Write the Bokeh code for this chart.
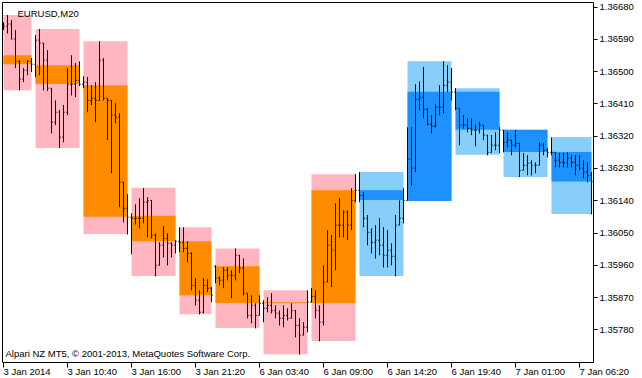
from bokeh.plotting import figure
from bokeh.models import ColumnDataSource, FixedTicker, PrintfTickFormatter, Range1d, Label, LinearAxis
from bokeh.embed import file_html
from bokeh.resources import INLINE

# ---------------- data ----------------
symbol_title = "EURUSD,M20"
broker_note = "Alpari NZ MT5, \u00a9 2001-2013, MetaQuotes Software Corp."

# M20 bars (bar index 0 = 3 Jan 2014 05:20)
bar_open = [
    1.36624, 1.36627, 1.36633, 1.36591, 1.36529, 1.36479, 1.36504, 1.36529,
    1.36521, 1.36588, 1.36580, 1.36532, 1.36454, 1.36359, 1.36387, 1.36317, 1.36387, 1.36465, 1.36465, 1.36476,
    1.36465, 1.36471, 1.36420, 1.36426, 1.36420, 1.36532, 1.36426, 1.36420, 1.36379, 1.36373, 1.36192, 1.36119,
    1.36094, 1.36091, 1.36091, 1.36091, 1.36136, 1.36141, 1.36044, 1.35960, 1.36016, 1.36035, 1.36021, 1.36016,
    1.36027, 1.36024, 1.36007, 1.35993, 1.35904, 1.35862, 1.35829, 1.35904, 1.35896,
    1.35957, 1.35924, 1.35918, 1.35946, 1.35932, 1.35932, 1.35988, 1.35952, 1.35882, 1.35820, 1.35848, 1.35820,
    1.35854, 1.35840, 1.35848, 1.35834, 1.35826, 1.35812, 1.35820, 1.35812, 1.35834, 1.35792, 1.35765, 1.35787,
    1.35857, 1.35873, 1.35834, 1.35801, 1.35913, 1.36016, 1.36002, 1.36072, 1.36072, 1.36108, 1.36072, 1.36141,
    1.36169, 1.36155, 1.36091, 1.36052, 1.36024, 1.36030, 1.36016, 1.35988, 1.36002, 1.35985, 1.36072, 1.36091,
    1.36141, 1.36256, 1.36231, 1.36423, 1.36429, 1.36395, 1.36353, 1.36348, 1.36401, 1.36401, 1.36462, 1.36471,
    1.36443, 1.36398, 1.36351, 1.36351, 1.36342, 1.36337, 1.36337, 1.36351, 1.36323, 1.36275, 1.36295, 1.36295,
    1.36337, 1.36303, 1.36309, 1.36295, 1.36300, 1.36225, 1.36239, 1.36245, 1.36239, 1.36239, 1.36295, 1.36281,
    1.36275, 1.36275, 1.36253, 1.36247, 1.36245, 1.36259, 1.36247, 1.36239, 1.36231, 1.36220, 1.36211,
]
bar_high = [
    1.36638, 1.36658, 1.36644, 1.36616, 1.36532, 1.36510, 1.36532, 1.36538,
    1.36602, 1.36619, 1.36580, 1.36560, 1.36454, 1.36420, 1.36393, 1.36407, 1.36510, 1.36546, 1.36524, 1.36529,
    1.36487, 1.36485, 1.36462, 1.36471, 1.36585, 1.36538, 1.36426, 1.36420, 1.36412, 1.36384, 1.36192, 1.36158,
    1.36105, 1.36130, 1.36147, 1.36175, 1.36150, 1.36141, 1.36049, 1.36024, 1.36069, 1.36049, 1.36024, 1.36030,
    1.36066, 1.36066, 1.36027, 1.35996, 1.35924, 1.35890, 1.35924, 1.35921, 1.35899,
    1.35960, 1.35929, 1.35954, 1.35954, 1.35946, 1.36007, 1.35988, 1.35979, 1.35882, 1.35876, 1.35854, 1.35876,
    1.35862, 1.35871, 1.35882, 1.35848, 1.35834, 1.35848, 1.35840, 1.35854, 1.35834, 1.35812, 1.35801, 1.35890,
    1.35896, 1.35890, 1.35848, 1.35960, 1.36058, 1.36044, 1.36133, 1.36147, 1.36113, 1.36113, 1.36175, 1.36214,
    1.36220, 1.36164, 1.36100, 1.36063, 1.36072, 1.36091, 1.36066, 1.36058, 1.36021, 1.36100, 1.36141, 1.36175,
    1.36345, 1.36345, 1.36465, 1.36473, 1.36513, 1.36398, 1.36379, 1.36409, 1.36462, 1.36529, 1.36518, 1.36510,
    1.36454, 1.36398, 1.36379, 1.36370, 1.36370, 1.36353, 1.36359, 1.36351, 1.36323, 1.36323, 1.36331, 1.36345,
    1.36337, 1.36331, 1.36309, 1.36337, 1.36300, 1.36273, 1.36267, 1.36253, 1.36247, 1.36303, 1.36300, 1.36287,
    1.36317, 1.36275, 1.36273, 1.36273, 1.36275, 1.36267, 1.36267, 1.36267, 1.36253, 1.36247, 1.36220,
]
bar_low = [
    1.36616, 1.36607, 1.36591, 1.36510, 1.36448, 1.36471, 1.36490, 1.36499,
    1.36485, 1.36490, 1.36448, 1.36446, 1.36328, 1.36351, 1.36287, 1.36303, 1.36379, 1.36434, 1.36429, 1.36460,
    1.36454, 1.36387, 1.36407, 1.36359, 1.36420, 1.36420, 1.36309, 1.36217, 1.36356, 1.36122, 1.36080, 1.36046,
    1.35991, 1.36074, 1.36063, 1.36077, 1.36038, 1.36035, 1.35929, 1.35960, 1.35982, 1.35960, 1.35982, 1.35993,
    1.35996, 1.35996, 1.35968, 1.35890, 1.35848, 1.35823, 1.35826, 1.35885, 1.35857,
    1.35910, 1.35904, 1.35896, 1.35918, 1.35868, 1.35918, 1.35938, 1.35876, 1.35812, 1.35798, 1.35784, 1.35820,
    1.35801, 1.35829, 1.35826, 1.35812, 1.35792, 1.35787, 1.35806, 1.35812, 1.35759, 1.35711, 1.35765, 1.35773,
    1.35857, 1.35812, 1.35748, 1.35792, 1.35913, 1.35899, 1.35946, 1.36038, 1.36038, 1.36030, 1.36058, 1.36136,
    1.36136, 1.36066, 1.36016, 1.35993, 1.35979, 1.35988, 1.35954, 1.35954, 1.35960, 1.35929, 1.36072, 1.36077,
    1.36141, 1.36183, 1.36220, 1.36393, 1.36370, 1.36351, 1.36328, 1.36345, 1.36379, 1.36384, 1.36443, 1.36420,
    1.36393, 1.36295, 1.36342, 1.36331, 1.36323, 1.36292, 1.36328, 1.36309, 1.36267, 1.36275, 1.36281, 1.36273,
    1.36275, 1.36289, 1.36267, 1.36289, 1.36206, 1.36225, 1.36211, 1.36211, 1.36217, 1.36239, 1.36267, 1.36261,
    1.36267, 1.36233, 1.36233, 1.36233, 1.36233, 1.36233, 1.36211, 1.36225, 1.36203, 1.36192, 1.36102,
]
bar_close = [
    1.36627, 1.36633, 1.36591, 1.36529, 1.36479, 1.36504, 1.36529, 1.36521,
    1.36588, 1.36580, 1.36532, 1.36454, 1.36359, 1.36387, 1.36317, 1.36387, 1.36465, 1.36465, 1.36476, 1.36465,
    1.36471, 1.36420, 1.36426, 1.36420, 1.36532, 1.36426, 1.36420, 1.36379, 1.36373, 1.36192, 1.36119, 1.36094,
    1.36091, 1.36091, 1.36091, 1.36136, 1.36141, 1.36044, 1.35960, 1.36016, 1.36035, 1.36021, 1.36016, 1.36027,
    1.36024, 1.36007, 1.35993, 1.35904, 1.35862, 1.35829, 1.35904, 1.35896, 1.35876,
    1.35924, 1.35918, 1.35946, 1.35932, 1.35932, 1.35988, 1.35952, 1.35882, 1.35820, 1.35848, 1.35820, 1.35854,
    1.35840, 1.35848, 1.35834, 1.35826, 1.35812, 1.35820, 1.35812, 1.35834, 1.35792, 1.35765, 1.35787, 1.35857,
    1.35873, 1.35834, 1.35801, 1.35913, 1.36016, 1.36002, 1.36072, 1.36072, 1.36108, 1.36072, 1.36141, 1.36169,
    1.36155, 1.36091, 1.36052, 1.36024, 1.36030, 1.36016, 1.35988, 1.36002, 1.35985, 1.36072, 1.36091, 1.36141,
    1.36256, 1.36231, 1.36423, 1.36429, 1.36395, 1.36353, 1.36348, 1.36401, 1.36401, 1.36462, 1.36471, 1.36443,
    1.36398, 1.36351, 1.36351, 1.36342, 1.36337, 1.36337, 1.36351, 1.36323, 1.36275, 1.36295, 1.36295, 1.36337,
    1.36303, 1.36309, 1.36295, 1.36300, 1.36225, 1.36239, 1.36245, 1.36239, 1.36239, 1.36295, 1.36281, 1.36275,
    1.36275, 1.36253, 1.36247, 1.36245, 1.36259, 1.36247, 1.36239, 1.36231, 1.36220, 1.36211, 1.36194,
]

# H4 candles drawn as boxes (first/last M20 bar of each period)
h4_first_bar = [0, 8, 20, 32, 44, 53, 65, 77, 89, 101, 113, 125, 137]
h4_last_bar = [7, 19, 31, 43, 52, 64, 76, 88, 100, 112, 124, 136, 147]
h4_open = [1.36546, 1.36518, 1.36462, 1.36098, 1.36027, 1.35957, 1.35854, 1.35855, 1.36169, 1.36139, 1.36444, 1.36338, 1.36276]
h4_high = [1.36658, 1.36619, 1.36585, 1.36176, 1.36066, 1.36007, 1.35890, 1.36214, 1.36220, 1.36529, 1.36454, 1.36338, 1.36318]
h4_low = [1.36448, 1.36287, 1.36047, 1.35930, 1.35823, 1.35785, 1.35712, 1.35749, 1.35930, 1.36139, 1.36268, 1.36206, 1.36103]
h4_close = [1.36521, 1.36466, 1.36095, 1.36027, 1.35876, 1.35855, 1.35857, 1.36169, 1.36142, 1.36444, 1.36338, 1.36276, 1.36194]
h4_trend = ["sell"] * 8 + ["buy"] * 5

price_ticks = [1.36680, 1.36590, 1.36500, 1.36410, 1.36320, 1.36230, 1.36140, 1.36050, 1.35960, 1.35870, 1.35780]
time_tick_bars = [0, 16, 32, 48, 64, 80, 96, 112, 128, 144]
time_tick_labels = ["3 Jan 2014", "3 Jan 10:40", "3 Jan 16:00", "3 Jan 21:20", "6 Jan 03:40",
                    "6 Jan 09:00", "6 Jan 14:20", "6 Jan 19:40", "7 Jan 01:00", "7 Jan 06:20"]

# ---------------- layout / style ----------------
FONT = "Liberation Sans"
FS = "9.5px"
TICK = 0.3
# chart box: x from X0 to X_EDGE, price from Y_LOW to Y_HIGH; the frame extends
# further right/down so the axis labels drawn at the box edges are not clipped
X0, X_EDGE, X1 = -0.25, 147.5, 159.75
Y_BOTTOM, Y_LOW, Y_HIGH = 1.3564406, 1.356887, 1.366931
range_colors = {"sell": "#FFB6C1", "buy": "#87CEFA"}
body_colors = {"sell": "#FF8C00", "buy": "#1E90FF"}

n = len(bar_close)
xs = list(range(n))
bars = ColumnDataSource(dict(
    x=xs, xl=[i - TICK for i in xs], xr=[i + TICK for i in xs],
    o=bar_open, h=bar_high, l=bar_low, c=bar_close))

h4 = ColumnDataSource(dict(
    left=h4_first_bar, right=h4_last_bar, high=h4_high, low=h4_low,
    top=[max(o, c) for o, c in zip(h4_open, h4_close)],
    bottom=[min(o, c) for o, c in zip(h4_open, h4_close)],
    light=[range_colors[t] for t in h4_trend],
    dark=[body_colors[t] for t in h4_trend]))

p = figure(width=642, height=378, output_backend="svg", toolbar_location=None,
           x_range=Range1d(X0, X1), y_range=Range1d(Y_BOTTOM, Y_HIGH),
           y_axis_location="right",
           min_border_left=2, min_border_right=0, min_border_top=2, min_border_bottom=0,
           background_fill_color="white", border_fill_color="white")
p.grid.visible = False
p.outline_line_color = None

p.quad(left="left", right="right", top="high", bottom="low", fill_color="light",
       line_color=None, source=h4)
p.quad(left="left", right="right", top="top", bottom="bottom", fill_color="dark",
       line_color=None, source=h4)

p.segment(x0="x", y0="l", x1="x", y1="h", line_color="black", line_width=1, source=bars)
p.segment(x0="xl", y0="o", x1="x", y1="o", line_color="black", line_width=1, source=bars)
p.segment(x0="x", y0="c", x1="xr", y1="c", line_color="black", line_width=1, source=bars)

yax = p.yaxis[0]
yax.fixed_location = X_EDGE
yax.bounds = (Y_LOW, Y_HIGH)
yax.ticker = FixedTicker(ticks=price_ticks)
yax.formatter = PrintfTickFormatter(format="%.5f")
yax.major_tick_out = 4
yax.major_tick_in = 0
yax.minor_tick_out = 0
yax.minor_tick_in = 0
yax.major_label_standoff = 2
yax.major_label_text_font = FONT
yax.major_label_text_font_size = FS
yax.major_label_text_color = "black"
yax.axis_line_color = "black"
yax.major_tick_line_color = "black"

xax = p.xaxis[0]
xax.fixed_location = Y_LOW
xax.bounds = (X0, X_EDGE)
xax.ticker = FixedTicker(ticks=time_tick_bars)
xax.major_label_overrides = {b: t for b, t in zip(time_tick_bars, time_tick_labels)}
xax.major_label_orientation = -1e-6
xax.major_label_text_align = "left"
xax.major_tick_out = 5
xax.major_tick_in = 0
xax.minor_tick_out = 0
xax.minor_tick_in = 0
xax.major_label_standoff = 4
xax.major_label_text_font = FONT
xax.major_label_text_font_size = FS
xax.major_label_text_color = "black"
xax.axis_line_color = "black"
xax.major_tick_line_color = "black"

# plain border lines on the left and top of the chart box
for side, bnds in (("left", (Y_LOW, Y_HIGH)), ("above", (X0, X_EDGE))):
    border = LinearAxis(ticker=FixedTicker(ticks=[]), bounds=bnds,
                        major_tick_out=0, major_tick_in=0, minor_tick_out=0, minor_tick_in=0,
                        major_label_standoff=0, axis_line_color="black")
    p.add_layout(border, side)

p.add_layout(Label(x=15, y=364.7, x_units="screen", y_units="screen", text=symbol_title,
                   text_font=FONT, text_font_size=FS, text_baseline="alphabetic", text_color="black"))
p.add_layout(Label(x=3, y=25, x_units="screen", y_units="screen", text=broker_note,
                   text_font=FONT, text_font_size=FS, text_baseline="alphabetic", text_color="black"))

open("out.html", "w").write(file_html(p, INLINE))
